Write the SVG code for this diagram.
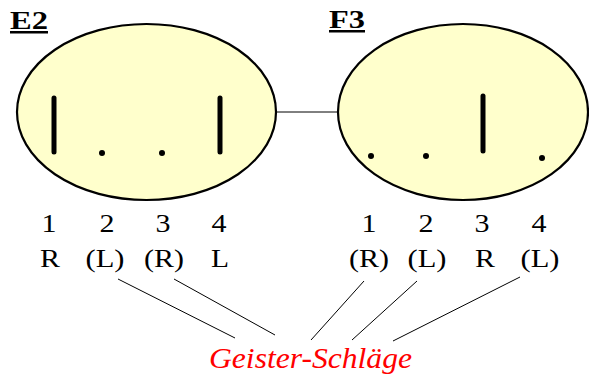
<svg xmlns="http://www.w3.org/2000/svg" width="589" height="378" viewBox="0 0 589 378">
<style>
.ell{fill:#FFFFCC;stroke:#000;stroke-width:2.2}
.bar{stroke:#000;stroke-width:5;stroke-linecap:round}
.dot{fill:#000}
.ttl{font-family:'Liberation Serif','Times New Roman',Times,'DejaVu Serif',serif;font-weight:bold;font-size:25px;text-decoration:underline;fill:#000}
.lbl{font-family:'Liberation Serif','Times New Roman',Times,'DejaVu Serif',serif;font-size:26px;fill:#000;text-anchor:middle}
.ghost{font-family:'Liberation Serif','Times New Roman',Times,'DejaVu Serif',serif;font-style:italic;font-size:30px;fill:#FF0000}
.con{stroke:#000;stroke-width:1;fill:none}
</style>
<rect width="589" height="378" fill="#fff"/>
<g id="connectors">
<line class="con" x1="276" y1="112" x2="338" y2="112" stroke="#333"/>
<line class="con" x1="118" y1="279" x2="235" y2="338"/>
<line class="con" x1="174" y1="279" x2="275" y2="335"/>
<line class="con" x1="364" y1="281" x2="311" y2="340"/>
<line class="con" x1="417" y1="281" x2="352" y2="340"/>
<line class="con" x1="520" y1="277" x2="393" y2="341"/>
</g>
<g id="E2">
<text class="ttl" x="10" y="29" textLength="38" lengthAdjust="spacingAndGlyphs">E2</text>
<ellipse class="ell" cx="146.5" cy="112" rx="129.5" ry="88"/>
<line class="bar" x1="54" y1="98" x2="54" y2="152"/>
<circle class="dot" cx="102" cy="153" r="3"/>
<circle class="dot" cx="162" cy="153" r="3"/>
<line class="bar" x1="220" y1="98" x2="220" y2="152"/>
<text class="lbl" x="49" y="232" textLength="15" lengthAdjust="spacingAndGlyphs">1</text>
<text class="lbl" x="107" y="232" textLength="15" lengthAdjust="spacingAndGlyphs">2</text>
<text class="lbl" x="163" y="232" textLength="15" lengthAdjust="spacingAndGlyphs">3</text>
<text class="lbl" x="219" y="232" textLength="15" lengthAdjust="spacingAndGlyphs">4</text>
<text class="lbl" x="50" y="267" textLength="20" lengthAdjust="spacingAndGlyphs">R</text>
<text class="lbl" x="105" y="267" textLength="39" lengthAdjust="spacingAndGlyphs">(L)</text>
<text class="lbl" x="164" y="267" textLength="40" lengthAdjust="spacingAndGlyphs">(R)</text>
<text class="lbl" x="220" y="267" textLength="18" lengthAdjust="spacingAndGlyphs">L</text>
</g>
<g id="F3">
<text class="ttl" x="329" y="28" textLength="36" lengthAdjust="spacingAndGlyphs">F3</text>
<ellipse class="ell" cx="463" cy="112" rx="125" ry="88"/>
<circle class="dot" cx="371" cy="156" r="3"/>
<circle class="dot" cx="426" cy="156" r="3"/>
<line class="bar" x1="483" y1="96" x2="483" y2="151"/>
<circle class="dot" cx="542" cy="158" r="3"/>
<text class="lbl" x="369" y="232" textLength="15" lengthAdjust="spacingAndGlyphs">1</text>
<text class="lbl" x="426" y="232" textLength="15" lengthAdjust="spacingAndGlyphs">2</text>
<text class="lbl" x="482" y="232" textLength="15" lengthAdjust="spacingAndGlyphs">3</text>
<text class="lbl" x="539" y="232" textLength="15" lengthAdjust="spacingAndGlyphs">4</text>
<text class="lbl" x="369" y="267" textLength="40" lengthAdjust="spacingAndGlyphs">(R)</text>
<text class="lbl" x="427" y="267" textLength="39" lengthAdjust="spacingAndGlyphs">(L)</text>
<text class="lbl" x="485" y="267" textLength="20" lengthAdjust="spacingAndGlyphs">R</text>
<text class="lbl" x="540" y="267" textLength="39" lengthAdjust="spacingAndGlyphs">(L)</text>
</g>
<g id="ghost">
<text class="ghost" x="209" y="368" textLength="203" lengthAdjust="spacingAndGlyphs">Geister-Schläge</text>
</g>
</svg>
